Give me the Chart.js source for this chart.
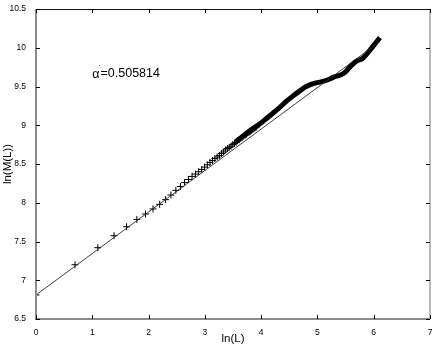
<!DOCTYPE html>
<html>
<head>
<meta charset="utf-8">
<script src="https://cdn.jsdelivr.net/npm/chart.js@4/dist/chart.umd.min.js"></script>
<style>
  html, body { margin: 0; padding: 0; background: #fff; }
  #wrap { width: 436px; height: 346px; }
</style>
</head>
<body>
<div id="wrap"><canvas id="myChart"></canvas></div>
<script>
// sizes L of the first (sparse) points and ln(M(L))
const sizes = [1, 2, 3, 4, 5, 6, 7, 8, 9, 10, 11, 12, 13, 14, 15, 16, 17, 18, 19, 20,
    21, 22, 23, 24, 25, 26, 27, 28, 29, 30, 31, 32, 33, 34, 35, 36, 37, 38, 39, 40,
    41, 42, 43, 44, 45, 46, 47, 48, 49, 50];
const lnMass = [6.81, 7.20, 7.42, 7.575, 7.69, 7.785, 7.855, 7.92, 7.98, 8.04,
    8.10, 8.16, 8.21, 8.26, 8.30, 8.34, 8.37, 8.40, 8.43, 8.46,
    8.49, 8.52, 8.545, 8.57, 8.59, 8.61, 8.635, 8.655, 8.68, 8.70,
    8.715, 8.73, 8.75, 8.765, 8.78, 8.80, 8.815, 8.83, 8.845, 8.86,
    8.875, 8.885, 8.90, 8.91, 8.92, 8.935, 8.945, 8.955, 8.965, 8.975];

// dense part (markers merge into a thick band)
const denseLnL = [3.55, 3.7, 3.8, 3.98, 4.1, 4.2, 4.3, 4.45, 4.57, 4.7, 4.8, 4.9, 5.0,
    5.1, 5.2, 5.3, 5.4, 5.5, 5.6, 5.7, 5.8, 5.9, 6.0, 6.11];
const denseLnM = [8.79, 8.87, 8.93, 9.02, 9.09, 9.15, 9.21, 9.31, 9.38, 9.45, 9.5, 9.53, 9.55,
    9.565, 9.59, 9.625, 9.645, 9.69, 9.77, 9.83, 9.86, 9.94, 10.03, 10.13];

// fitted straight line
const fitX = [0, 6.11];
const fitY = [6.81, 10.08];
const fitLabel = '=0.505814';

const xTicks = [0, 1, 2, 3, 4, 5, 6, 7];
const yTicks = [6.5, 7, 7.5, 8, 8.5, 9, 9.5, 10, 10.5];

const sparsePts = sizes.map((L, i) => ({ x: Math.log(L), y: lnMass[i] }));
const densePts = denseLnL.map((v, i) => ({ x: v, y: denseLnM[i] }));
const fitPts = fitX.map((v, i) => ({ x: v, y: fitY[i] }));

const FONT = "'Liberation Sans', Arial, Helvetica, sans-serif";

// box with inward ticks on all four sides + the alpha label
const frame = {
    id: 'frame',
    afterDatasetsDraw(chart) {
        const { ctx, chartArea: a, scales: { x, y } } = chart;
        ctx.save();
        ctx.strokeStyle = '#8c8c8c';
        ctx.lineWidth = 2;
        ctx.beginPath();
        ctx.moveTo(a.left, a.top); ctx.lineTo(a.left, a.bottom); ctx.lineTo(a.right, a.bottom);
        ctx.stroke();
        ctx.lineWidth = 1.2;
        ctx.beginPath();
        ctx.moveTo(a.right, a.bottom); ctx.lineTo(a.right, a.top);
        ctx.stroke();
        ctx.strokeStyle = '#111';
        ctx.lineWidth = 1;
        ctx.beginPath();
        ctx.moveTo(a.left, a.top + 0.5); ctx.lineTo(a.right, a.top + 0.5);
        ctx.stroke();

        ctx.strokeStyle = '#000';
        ctx.lineWidth = 1;
        ctx.beginPath();
        xTicks.forEach(t => {
            const px = Math.round(x.getPixelForValue(t)) + 0.5;
            ctx.moveTo(px, a.bottom); ctx.lineTo(px, a.bottom - 4);
            ctx.moveTo(px, a.top); ctx.lineTo(px, a.top + 4);
        });
        yTicks.forEach(t => {
            const py = Math.round(y.getPixelForValue(t)) + 0.5;
            ctx.moveTo(a.left, py); ctx.lineTo(a.left + 4, py);
            ctx.moveTo(a.right, py); ctx.lineTo(a.right - 4, py);
        });
        ctx.stroke();

        // alpha' annotation
        const tx = x.getPixelForValue(1.0);
        const ty = y.getPixelForValue(9.67);
        ctx.fillStyle = '#000';
        ctx.textBaseline = 'middle';
        ctx.font = '12.5px ' + FONT;
        ctx.fillText('α', tx, ty + 1);
        const aw = ctx.measureText('α').width;
        ctx.font = '8px ' + FONT;
        ctx.fillText('´', tx + aw - 1, ty - 6);
        ctx.font = '12.5px ' + FONT;
        ctx.fillText(fitLabel, tx + aw + 1, ty);
        ctx.restore();
    }
};

const ctx = document.getElementById('myChart');

new Chart(ctx, {
    type: 'scatter',
    data: {
        datasets: [{
            label: 'fit',
            data: fitPts,
            showLine: true,
            borderColor: '#2a2a2a',
            borderWidth: 0.9,
            pointRadius: 0
        }, {
            label: 'dense',
            data: densePts,
            showLine: true,
            borderColor: '#000',
            borderWidth: 5,
            tension: 0.35,
            pointRadius: 0
        }, {
            label: 'M(L)',
            data: sparsePts,
            pointStyle: 'cross',
            pointRadius: 3.5,
            borderColor: '#000',
            backgroundColor: '#000',
            borderWidth: 1
        }]
    },
    plugins: [frame],
    options: {
        responsive: true,
        maintainAspectRatio: false,
        animation: false,
        layout: { padding: { top: 9, right: 6, left: 0, bottom: 0 } },
        plugins: { legend: { display: false }, tooltip: { enabled: false } },
        scales: {
            x: {
                type: 'linear',
                min: 0,
                max: 7,
                afterBuildTicks: s => { s.ticks = xTicks.map(v => ({ value: v })); },
                afterFit: s => { s.height = 27; },
                grid: { display: false },
                border: { display: false },
                ticks: { color: '#000', padding: 1, maxRotation: 0, callback: v => String(v), font: { size: 8.5, family: FONT } },
                title: { display: true, text: 'ln(L)', color: '#000', padding: 0, font: { size: 11.5, family: FONT } }
            },
            y: {
                min: 6.5,
                max: 10.5,
                afterBuildTicks: s => { s.ticks = yTicks.map(v => ({ value: v })); },
                afterFit: s => { s.width = 36; },
                grid: { display: false },
                border: { display: false },
                ticks: { color: '#000', padding: 2, callback: v => String(v), font: { size: 8.5, family: FONT } },
                title: { display: true, text: 'ln(M(L))', color: '#000', padding: 1, font: { size: 11.5, family: FONT } }
            }
        }
    }
});
</script>
</body>
</html>
